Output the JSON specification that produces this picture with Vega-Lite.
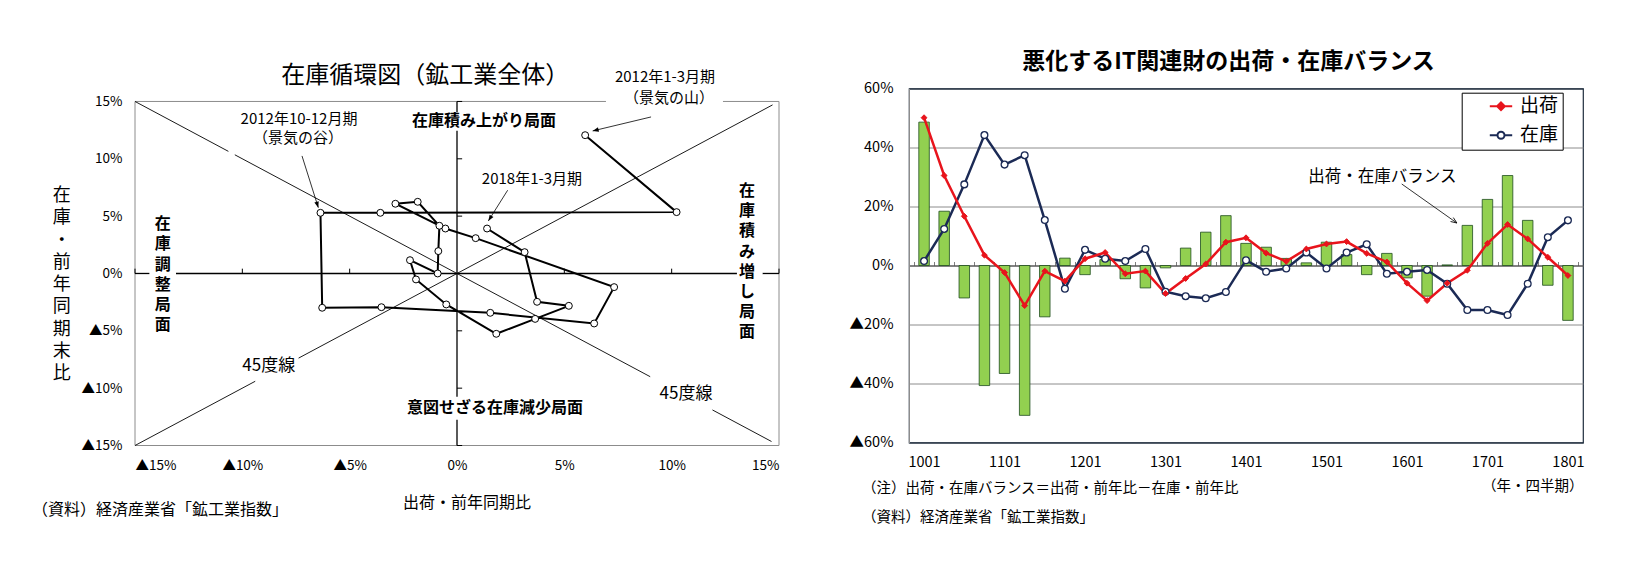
{
  "$schema": "https://vega.github.io/schema/vega-lite/v6.json",
  "background": "white",
  "padding": {"left": 31, "top": 49.5, "right": 5, "bottom": 5},
  "autosize": {"type": "pad"},
  "bounds": "flush",
  "spacing": 130,
  "config": {
    "font": "Noto Sans CJK JP",
    "view": {"stroke": null},
    "axis": {"domain": false, "ticks": false, "grid": false, "labelColor": "#000000", "titleColor": "#000000"}
  },
  "datasets": {
    "box": [
      {"x": -15, "y": -15, "x2": -15, "y2": 15},
      {"x": -15, "y": -15, "x2": 15, "y2": -15},
      {"x": 15, "y": -15, "x2": 15, "y2": 15},
      {"x": -15, "y": 15, "x2": 6.94, "y2": 15},
      {"x": 12.39, "y": 15, "x2": 15, "y2": 15}
    ],
    "cross": [
      {"x": -15, "y": 0, "x2": -14.33, "y2": 0},
      {"x": -13.09, "y": 0, "x2": 13.04, "y2": 0},
      {"x": 14.24, "y": 0, "x2": 15, "y2": 0},
      {"x": 0, "y": -15, "x2": 0, "y2": -12.75},
      {"x": 0, "y": -10.75, "x2": 0, "y2": 12.45},
      {"x": 0, "y": 14.05, "x2": 0, "y2": 15}
    ],
    "diag": [
      {"x": -15, "y": 15, "x2": -10.65, "y2": 10.65},
      {"x": -10.35, "y": 10.35, "x2": 9.0, "y2": -9.0},
      {"x": 11.9, "y": -11.9, "x2": 14.65, "y2": -14.65},
      {"x": -15, "y": -15, "x2": -9.4, "y2": -9.4},
      {"x": -7.38, "y": -7.38, "x2": 14.7, "y2": 14.7}
    ],
    "cycle": [
      {"order": 1, "period": "2012Q1", "ship": 5.97, "inv": 12.06},
      {"order": 2, "period": "2012Q2", "ship": 10.23, "inv": 5.35},
      {"order": 3, "period": "2012Q3", "ship": -3.57, "inv": 5.29},
      {"order": 4, "period": "2012Q4", "ship": -6.36, "inv": 5.29},
      {"order": 5, "period": "2013Q1", "ship": -6.28, "inv": -2.99},
      {"order": 6, "period": "2013Q2", "ship": -3.52, "inv": -2.94},
      {"order": 7, "period": "2013Q3", "ship": 1.55, "inv": -3.43},
      {"order": 8, "period": "2013Q4", "ship": 6.39, "inv": -4.36},
      {"order": 9, "period": "2014Q1", "ship": 7.32, "inv": -1.19},
      {"order": 10, "period": "2014Q2", "ship": 0.87, "inv": 3.08},
      {"order": 11, "period": "2014Q3", "ship": -0.54, "inv": 3.92},
      {"order": 12, "period": "2014Q4", "ship": -2.87, "inv": 6.08},
      {"order": 13, "period": "2015Q1", "ship": -1.83, "inv": 6.25},
      {"order": 14, "period": "2015Q2", "ship": -0.82, "inv": 4.16},
      {"order": 15, "period": "2015Q3", "ship": -0.87, "inv": 1.95},
      {"order": 16, "period": "2015Q4", "ship": -0.9, "inv": 0.0},
      {"order": 17, "period": "2016Q1", "ship": -2.19, "inv": 1.16},
      {"order": 18, "period": "2016Q2", "ship": -1.91, "inv": -0.52},
      {"order": 19, "period": "2016Q3", "ship": -0.5, "inv": -2.7},
      {"order": 20, "period": "2016Q4", "ship": 1.83, "inv": -5.26},
      {"order": 21, "period": "2017Q1", "ship": 3.64, "inv": -3.96},
      {"order": 22, "period": "2017Q2", "ship": 5.21, "inv": -2.82},
      {"order": 23, "period": "2017Q3", "ship": 3.73, "inv": -2.47},
      {"order": 24, "period": "2017Q4", "ship": 3.15, "inv": 1.86},
      {"order": 25, "period": "2018Q1", "ship": 1.4, "inv": 3.92}
    ],
    "l_arrows": [
      {"id": "valley", "x": -7.22, "y": 10.25, "x2": -6.46, "y2": 5.74},
      {"id": "peak", "x": 9.04, "y": 13.65, "x2": 6.32, "y2": 12.43},
      {"id": "latest", "x": 2.36, "y": 7.26, "x2": 1.46, "y2": 4.58}
    ],
    "l_notes": [
      {"t": "2012年10-12月期", "x": -7.36, "y": 13.5},
      {"t": "（景気の谷）", "x": -7.41, "y": 11.85},
      {"t": "2018年1-3月期", "x": 3.49, "y": 8.24},
      {"t": "2012年1-3月期", "x": 9.69, "y": 17.17},
      {"t": "（景気の山）", "x": 9.88, "y": 15.3}
    ],
    "l_phase": [
      {"t": "在庫積み上がり局面", "x": 1.26, "y": 13.3},
      {"t": "意図せざる在庫減少局面", "x": 1.77, "y": -11.73},
      {"t": "在\n庫\n積\nみ\n増\nし\n局\n面", "x": 13.51, "y": 7.19},
      {"t": "在\n庫\n調\n整\n局\n面", "x": -13.71, "y": 4.29}
    ],
    "l_45": [
      {"t": "45度線", "x": -8.77, "y": -8.07},
      {"t": "45度線", "x": 10.67, "y": -10.53}
    ],
    "it": [
      {"q": "1001", "i": 0, "出荷": 50.1, "在庫": 1.5, "バランス": 48.6},
      {"q": "1002", "i": 1, "出荷": 30.5, "在庫": 12.4, "バランス": 18.4},
      {"q": "1003", "i": 2, "出荷": 16.7, "在庫": 27.5, "バランス": -11.0},
      {"q": "1004", "i": 3, "出荷": 3.5, "在庫": 44.2, "バランス": -40.7},
      {"q": "1101", "i": 4, "出荷": -2.4, "在庫": 34.2, "バランス": -36.6},
      {"q": "1102", "i": 5, "出荷": -13.6, "在庫": 37.4, "バランス": -50.8},
      {"q": "1103", "i": 6, "出荷": -1.9, "在庫": 15.4, "バランス": -17.4},
      {"q": "1104", "i": 7, "出荷": -5.3, "在庫": -7.9, "バランス": 2.5},
      {"q": "1201", "i": 8, "出荷": 2.3, "在庫": 5.3, "バランス": -3.1},
      {"q": "1202", "i": 9, "出荷": 4.4, "在庫": 2.3, "バランス": 2.0},
      {"q": "1203", "i": 10, "出荷": -2.8, "在庫": 1.5, "バランス": -4.5},
      {"q": "1204", "i": 11, "出荷": -1.9, "在庫": 5.6, "バランス": -7.6},
      {"q": "1301", "i": 12, "出荷": -9.5, "在庫": -8.9, "バランス": -0.8},
      {"q": "1302", "i": 13, "出荷": -4.4, "在庫": -10.4, "バランス": 5.9},
      {"q": "1303", "i": 14, "出荷": 0.5, "在庫": -11.1, "バランス": 11.3},
      {"q": "1304", "i": 15, "出荷": 7.9, "在庫": -9.0, "バランス": 16.9},
      {"q": "1401", "i": 16, "出荷": 9.4, "在庫": 1.8, "バランス": 7.5},
      {"q": "1402", "i": 17, "出荷": 4.2, "在庫": -2.1, "バランス": 6.2},
      {"q": "1403", "i": 18, "出荷": 1.4, "在庫": -1.0, "バランス": 2.4},
      {"q": "1404", "i": 19, "出荷": 5.6, "在庫": 4.4, "バランス": 0.9},
      {"q": "1501", "i": 20, "出荷": 7.3, "在庫": -1.0, "バランス": 7.9},
      {"q": "1502", "i": 21, "出荷": 8.1, "在庫": 4.4, "バランス": 3.7},
      {"q": "1503", "i": 22, "出荷": 4.1, "在庫": 7.2, "バランス": -3.1},
      {"q": "1504", "i": 23, "出荷": 1.2, "在庫": -2.8, "バランス": 4.1},
      {"q": "1601", "i": 24, "出荷": -6.0, "在庫": -2.1, "バランス": -4.2},
      {"q": "1602", "i": 25, "出荷": -11.9, "在庫": -1.5, "バランス": -10.4},
      {"q": "1603", "i": 26, "出荷": -6.0, "在庫": -6.2, "バランス": 0.2},
      {"q": "1604", "i": 27, "出荷": -1.6, "在庫": -15.1, "バランス": 13.6},
      {"q": "1701", "i": 28, "出荷": 7.5, "在庫": -15.1, "バランス": 22.4},
      {"q": "1702", "i": 29, "出荷": 13.9, "在庫": -16.8, "バランス": 30.5},
      {"q": "1703", "i": 30, "出荷": 9.0, "在庫": -6.2, "バランス": 15.3},
      {"q": "1704", "i": 31, "出荷": 2.8, "在庫": 9.6, "バランス": -6.7},
      {"q": "1801", "i": 32, "出荷": -3.4, "在庫": 15.3, "バランス": -18.6}
    ],
    "r_arrow": [
      {"x": 23.74, "y": 27.63, "x2": 26.48, "y2": 14.41}
    ],
    "r_notes": [
      {"t": "（注）出荷・在庫バランス＝出荷・前年比－在庫・前年比", "x": -3.09, "y": -75.76},
      {"t": "（資料）経済産業省「鉱工業指数」", "x": -3.09, "y": -85.5}
    ]
  },
  "hconcat": [
    {
      "width": 644,
      "height": 357,
      "view": {"stroke": null},
      "layer": [
        {
          "data": {"name": "box"},
          "mark": {"type": "rule", "color": "#8c8c8c", "strokeWidth": 1},
          "encoding": {
            "x": {
              "field": "x", "type": "quantitative",
              "scale": {"domain": [-15, 15], "nice": false, "zero": false},
              "axis": {
                "values": [-15, -10, -5, 0, 5, 10, 15],
                "labelExpr": "datum.value < 0 ? '▲' + abs(datum.value) + '%' : datum.value + '%'",
                "labelFontSize": 13.5, "labelPadding": 13, "title": null
              }
            },
            "y": {
              "field": "y", "type": "quantitative",
              "scale": {"domain": [-15, 16.13], "nice": false, "zero": false},
              "axis": {
                "values": [-15, -10, -5, 0, 5, 10, 15],
                "labelExpr": "datum.value < 0 ? '▲' + abs(datum.value) + '%' : datum.value + '%'",
                "labelFontSize": 13.5, "labelPadding": 13, "title": null
              }
            },
            "x2": {"field": "x2"},
            "y2": {"field": "y2"}
          }
        },
        {
          "data": {"name": "diag"},
          "mark": {"type": "rule", "color": "#000000", "strokeWidth": 0.9},
          "encoding": {
            "x": {"field": "x", "type": "quantitative"},
            "y": {"field": "y", "type": "quantitative"},
            "x2": {"field": "x2"},
            "y2": {"field": "y2"}
          }
        },
        {
          "data": {"name": "cross"},
          "mark": {"type": "rule", "color": "#000000", "strokeWidth": 1.3},
          "encoding": {
            "x": {"field": "x", "type": "quantitative"},
            "y": {"field": "y", "type": "quantitative"},
            "x2": {"field": "x2"},
            "y2": {"field": "y2"}
          }
        },
        {
          "data": {"values": [{"v": -15}, {"v": -10}, {"v": -5}, {"v": 5}, {"v": 10}, {"v": 15}]},
          "mark": {"type": "rule", "color": "#000000", "strokeWidth": 1},
          "encoding": {
            "y": {"field": "v", "type": "quantitative"},
            "x": {"datum": 0},
            "x2": {"datum": 0.24}
          }
        },
        {
          "data": {"values": [{"v": -15}, {"v": -10}, {"v": -5}, {"v": 5}, {"v": 10}, {"v": 15}]},
          "mark": {"type": "rule", "color": "#000000", "strokeWidth": 1},
          "encoding": {
            "x": {"field": "v", "type": "quantitative"},
            "y": {"datum": 0},
            "y2": {"datum": 0.42}
          }
        },
        {
          "data": {"name": "cycle"},
          "mark": {"type": "line", "color": "#000000", "strokeWidth": 2},
          "encoding": {
            "x": {"field": "ship", "type": "quantitative"},
            "y": {"field": "inv", "type": "quantitative"},
            "order": {"field": "order", "type": "quantitative"}
          }
        },
        {
          "data": {"name": "cycle"},
          "mark": {"type": "point", "shape": "circle", "filled": true, "fill": "#ffffff", "stroke": "#000000", "strokeWidth": 1, "size": 48, "opacity": 1},
          "encoding": {
            "x": {"field": "ship", "type": "quantitative"},
            "y": {"field": "inv", "type": "quantitative"}
          }
        },
        {
          "data": {"name": "l_arrows"},
          "mark": {"type": "rule", "color": "#000000", "strokeWidth": 0.8},
          "encoding": {
            "x": {"field": "x", "type": "quantitative"},
            "y": {"field": "y", "type": "quantitative"},
            "x2": {"field": "x2"},
            "y2": {"field": "y2"}
          }
        },
        {
          "data": {"name": "l_arrows"},
          "transform": [{"filter": "datum.id == 'valley'"}],
          "mark": {"type": "point", "shape": "M0,0L-2,-0.75L-2,0.75Z", "filled": true, "color": "#000000", "size": 36, "angle": 72.5, "opacity": 1},
          "encoding": {
            "x": {"field": "x2", "type": "quantitative"},
            "y": {"field": "y2", "type": "quantitative"}
          }
        },
        {
          "data": {"name": "l_arrows"},
          "transform": [{"filter": "datum.id == 'peak'"}],
          "mark": {"type": "point", "shape": "M0,0L-2,-0.75L-2,0.75Z", "filled": true, "color": "#000000", "size": 36, "angle": 166.5, "opacity": 1},
          "encoding": {
            "x": {"field": "x2", "type": "quantitative"},
            "y": {"field": "y2", "type": "quantitative"}
          }
        },
        {
          "data": {"name": "l_arrows"},
          "transform": [{"filter": "datum.id == 'latest'"}],
          "mark": {"type": "point", "shape": "M0,0L-2,-0.75L-2,0.75Z", "filled": true, "color": "#000000", "size": 36, "angle": 122.3, "opacity": 1},
          "encoding": {
            "x": {"field": "x2", "type": "quantitative"},
            "y": {"field": "y2", "type": "quantitative"}
          }
        },
        {
          "data": {"values": [{"t": "在庫循環図（鉱工業全体）", "x": -1.48, "y": 17.22}]},
          "mark": {"type": "text", "fontSize": 24, "align": "center", "baseline": "middle", "color": "#000000"},
          "encoding": {
            "text": {"field": "t"},
            "x": {"field": "x", "type": "quantitative"},
            "y": {"field": "y", "type": "quantitative"}
          }
        },
        {
          "data": {"name": "l_notes"},
          "mark": {"type": "text", "fontSize": 15, "align": "center", "baseline": "middle", "color": "#000000"},
          "encoding": {
            "text": {"field": "t"},
            "x": {"field": "x", "type": "quantitative"},
            "y": {"field": "y", "type": "quantitative"}
          }
        },
        {
          "data": {"name": "l_phase"},
          "mark": {"type": "text", "fontSize": 16, "fontWeight": "bold", "align": "center", "baseline": "middle", "lineBreak": "\n", "lineHeight": 20.2, "color": "#000000"},
          "encoding": {
            "text": {"field": "t"},
            "x": {"field": "x", "type": "quantitative"},
            "y": {"field": "y", "type": "quantitative"}
          }
        },
        {
          "data": {"name": "l_45"},
          "mark": {"type": "text", "fontSize": 17, "align": "center", "baseline": "middle", "color": "#000000"},
          "encoding": {
            "text": {"field": "t"},
            "x": {"field": "x", "type": "quantitative"},
            "y": {"field": "y", "type": "quantitative"}
          }
        },
        {
          "data": {"values": [{"t": "在\n庫\n・\n前\n年\n同\n期\n末\n比", "x": -18.41, "y": 6.76}]},
          "mark": {"type": "text", "fontSize": 18, "align": "center", "baseline": "middle", "lineBreak": "\n", "lineHeight": 22.3, "color": "#000000"},
          "encoding": {
            "text": {"field": "t"},
            "x": {"field": "x", "type": "quantitative"},
            "y": {"field": "y", "type": "quantitative"}
          }
        },
        {
          "data": {"values": [{"t": "出荷・前年同期比", "x": 0.47, "y": -20.01}]},
          "mark": {"type": "text", "fontSize": 16, "align": "center", "baseline": "middle", "color": "#000000"},
          "encoding": {
            "text": {"field": "t"},
            "x": {"field": "x", "type": "quantitative"},
            "y": {"field": "y", "type": "quantitative"}
          }
        },
        {
          "data": {"values": [{"t": "（資料）経済産業省「鉱工業指数」", "x": -19.8, "y": -20.62}]},
          "mark": {"type": "text", "fontSize": 16, "align": "left", "baseline": "middle", "color": "#000000"},
          "encoding": {
            "text": {"field": "t"},
            "x": {"field": "x", "type": "quantitative"},
            "y": {"field": "y", "type": "quantitative"}
          }
        }
      ]
    },
    {
      "width": 674,
      "height": 354,
      "view": {"stroke": "#1f2d3d", "strokeWidth": 1.2},
      "resolve": {"axis": {"x": "independent"}},
      "layer": [
        {
          "data": {"name": "it"},
          "mark": {"type": "bar", "size": 10.5, "fill": "#92d050", "stroke": "#1e4d1e", "strokeWidth": 0.8},
          "encoding": {
            "x": {
              "field": "i", "type": "quantitative",
              "scale": {"domain": [-0.5, 32.5], "nice": false, "zero": false},
              "axis": {
                "values": [0, 4, 8, 12, 16, 20, 24, 28, 32],
                "labelExpr": "(10 + datum.value / 4) + '01'",
                "labelFontSize": 14.5, "labelPadding": 13,
                "title": "（年・四半期）", "titleAnchor": "end", "titleFontSize": 14.5,
                "titleFontWeight": "normal", "titlePadding": 10
              }
            },
            "y": {
              "field": "バランス", "type": "quantitative",
              "scale": {"domain": [-60, 60], "nice": false, "zero": false},
              "axis": {
                "values": [-60, -40, -20, 0, 20, 40, 60],
                "labelExpr": "datum.value < 0 ? '▲' + abs(datum.value) + '%' : datum.value + '%'",
                "labelFontSize": 14.5, "labelPadding": 16, "title": null,
                "grid": true,
                "gridColor": {"condition": {"test": "abs(datum.value) == 60", "value": "#1f2d3d"}, "value": "#8c8c8c"},
                "gridWidth": 1,
                "domain": true, "domainColor": "#8c8c8c"
              }
            },
            "y2": {"datum": 0}
          }
        },
        {
          "data": {"name": "it"},
          "transform": [{"fold": ["在庫", "出荷"], "as": ["series", "value"]}],
          "mark": {"type": "line", "strokeWidth": 2.5},
          "encoding": {
            "x": {
              "field": "i", "type": "quantitative",
              "axis": {
                "orient": "top", "offset": -177,
                "values": [-0.5, 0.5, 1.5, 2.5, 3.5, 4.5, 5.5, 6.5, 7.5, 8.5, 9.5, 10.5, 11.5, 12.5, 13.5, 14.5, 15.5, 16.5, 17.5, 18.5, 19.5, 20.5, 21.5, 22.5, 23.5, 24.5, 25.5, 26.5, 27.5, 28.5, 29.5, 30.5, 31.5, 32.5],
                "labels": false, "ticks": true, "tickSize": 4, "tickColor": "#7f7f7f",
                "domain": true, "domainColor": "#404040", "title": null, "grid": false
              }
            },
            "y": {"field": "value", "type": "quantitative"},
            "color": {
              "field": "series", "type": "nominal",
              "scale": {"domain": ["出荷", "在庫"], "range": ["#e8141c", "#1b2a55"]},
              "legend": {
                "orient": "none", "legendX": 1326.7, "legendY": 4.2, "title": null,
                "direction": "vertical",
                "strokeColor": "#000000", "fillColor": "#ffffff", "padding": 4,
                "labelFontSize": 19, "labelColor": "#000000",
                "labelExpr": "datum.label + '\u3000'",
                "symbolSize": 49, "symbolOffset": 25.8, "labelOffset": 9.5, "rowPadding": 9,
                "symbolStrokeWidth": 2,
                "encode": {
                  "symbols": {
                    "update": {
                      "shape": {"signal": "datum.value === '出荷' ? 'M-3.2,0H3.2M0,-1.1L1.1,0L0,1.1L-1.1,0Z' : 'M-3.2,0H-1M1,0H3.2M-1,0A1,1 0 1,1 1,0A1,1 0 1,1 -1,0Z'"},
                      "fill": {"signal": "datum.value === '出荷' ? '#e8141c' : '#ffffff'"},
                      "stroke": {"signal": "datum.value === '出荷' ? '#e8141c' : '#1b2a55'"},
                      "opacity": {"value": 1}
                    }
                  }
                }
              }
            }
          }
        },
        {
          "data": {"name": "it"},
          "mark": {"type": "point", "shape": "circle", "filled": true, "fill": "#ffffff", "stroke": "#1b2a55", "strokeWidth": 1.3, "size": 46, "opacity": 1},
          "encoding": {
            "x": {"field": "i", "type": "quantitative", "axis": null},
            "y": {"field": "在庫", "type": "quantitative"}
          }
        },
        {
          "data": {"name": "it"},
          "mark": {"type": "point", "shape": "diamond", "filled": true, "fill": "#e8141c", "stroke": "#e8141c", "strokeWidth": 1, "size": 34, "opacity": 1},
          "encoding": {
            "x": {"field": "i", "type": "quantitative", "axis": null},
            "y": {"field": "出荷", "type": "quantitative"}
          }
        },
        {
          "data": {"name": "r_arrow"},
          "mark": {"type": "rule", "color": "#000000", "strokeWidth": 0.8},
          "encoding": {
            "x": {"field": "x", "type": "quantitative", "axis": null},
            "y": {"field": "y", "type": "quantitative"},
            "x2": {"field": "x2"},
            "y2": {"field": "y2"}
          }
        },
        {
          "data": {"name": "r_arrow"},
          "mark": {"type": "point", "shape": "M-2,-0.8L0,0L-2,0.8", "filled": false, "stroke": "#000000", "strokeWidth": 0.8, "size": 36, "angle": 34.9, "opacity": 1},
          "encoding": {
            "x": {"field": "x2", "type": "quantitative", "axis": null},
            "y": {"field": "y2", "type": "quantitative"}
          }
        },
        {
          "data": {"values": [{"t": "出荷・在庫バランス", "x": 22.78, "y": 30.1}]},
          "mark": {"type": "text", "fontSize": 16.5, "align": "center", "baseline": "middle", "color": "#000000"},
          "encoding": {
            "text": {"field": "t"},
            "x": {"field": "x", "type": "quantitative", "axis": null},
            "y": {"field": "y", "type": "quantitative"}
          }
        },
        {
          "data": {"values": [{"t": "悪化するIT関連財の出荷・在庫バランス", "x": 15.13, "y": 69.15}]},
          "mark": {"type": "text", "fontSize": 23, "fontWeight": "bold", "align": "center", "baseline": "middle", "color": "#000000"},
          "encoding": {
            "text": {"field": "t"},
            "x": {"field": "x", "type": "quantitative", "axis": null},
            "y": {"field": "y", "type": "quantitative"}
          }
        },
        {
          "data": {"name": "r_notes"},
          "mark": {"type": "text", "fontSize": 14.5, "align": "left", "baseline": "middle", "color": "#000000"},
          "encoding": {
            "text": {"field": "t"},
            "x": {"field": "x", "type": "quantitative", "axis": null},
            "y": {"field": "y", "type": "quantitative"}
          }
        }
      ]
    }
  ]
}
